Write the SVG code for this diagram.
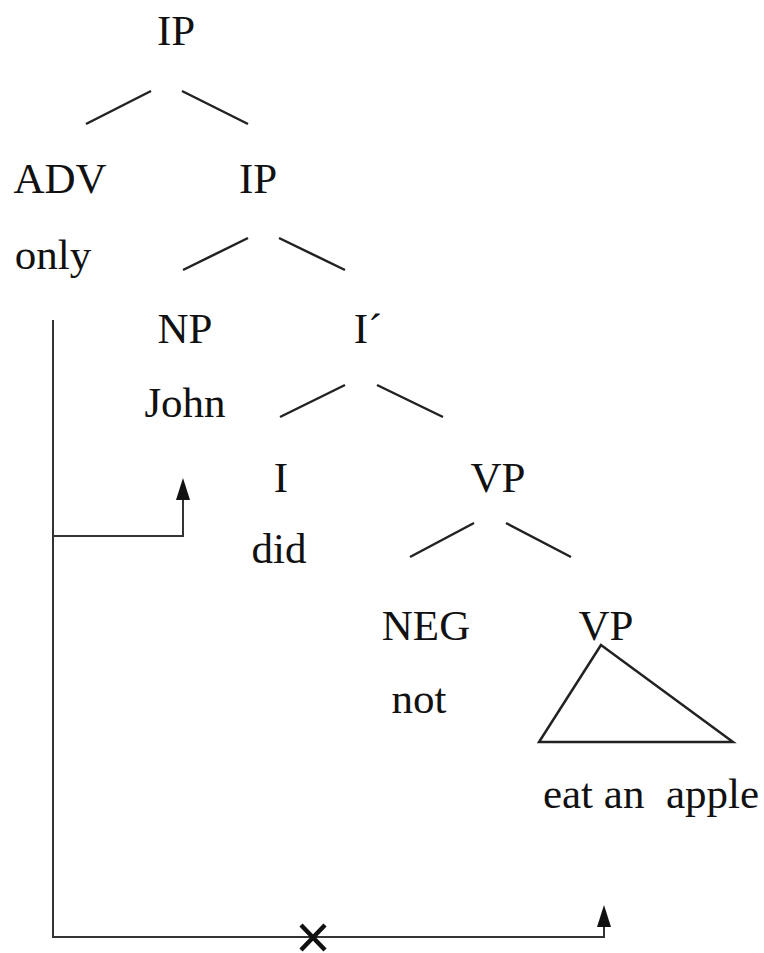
<svg xmlns="http://www.w3.org/2000/svg" width="764" height="953" viewBox="0 0 764 953">
<style>
text{font-family:'Liberation Serif','DejaVu Serif',serif;font-size:43px;fill:#111;text-anchor:middle}
.e{stroke:#222;stroke-width:2.5;fill:none}
.c{stroke:#333;stroke-width:2;fill:none}
.h{fill:#111}
</style>
<rect width="764" height="953" fill="#fff"/>
<g id="n-ip1"><text x="176" y="45">IP</text></g>
<g id="n-adv"><text x="60" y="193">ADV</text><text x="53" y="269">only</text></g>
<g id="n-ip2"><text x="258" y="193">IP</text></g>
<g id="n-np"><text x="185" y="343">NP</text><text x="185" y="417">John</text></g>
<g id="n-ibar"><text x="368" y="343">I´</text></g>
<g id="n-i"><text x="281" y="492">I</text><text x="279" y="563">did</text></g>
<g id="n-vp1"><text x="498" y="492">VP</text></g>
<g id="n-neg"><text x="426" y="640">NEG</text><text x="419" y="713">not</text></g>
<g id="n-vp2"><text x="606" y="640">VP</text><polygon class="e" points="601,645 539,742 733,742"/><text x="651" y="808" xml:space="preserve" style="white-space:pre">eat an  apple</text></g>
<g id="connectors">
<line class="e" x1="86" y1="124" x2="151" y2="91"/>
<line class="e" x1="182" y1="91" x2="248" y2="124"/>
<line class="e" x1="183" y1="270" x2="248" y2="238"/>
<line class="e" x1="279" y1="238" x2="345" y2="270"/>
<line class="e" x1="280" y1="417" x2="345" y2="385"/>
<line class="e" x1="377" y1="385" x2="443" y2="417"/>
<line class="e" x1="410" y1="557" x2="474" y2="523"/>
<line class="e" x1="506" y1="523" x2="571" y2="557"/>
<polyline class="c" points="53,320 53,937 604,937 604,925"/>
<polyline class="c" points="53,536 183,536 183,498"/>
<polygon class="h" points="183,478 176,500 190,500"/>
<polygon class="h" points="604,905 597,927 611,927"/>
<line x1="301" y1="925" x2="325" y2="950" stroke="#111" stroke-width="4.5"/>
<line x1="325" y1="925" x2="301" y2="950" stroke="#111" stroke-width="4.5"/>
</g>
</svg>
